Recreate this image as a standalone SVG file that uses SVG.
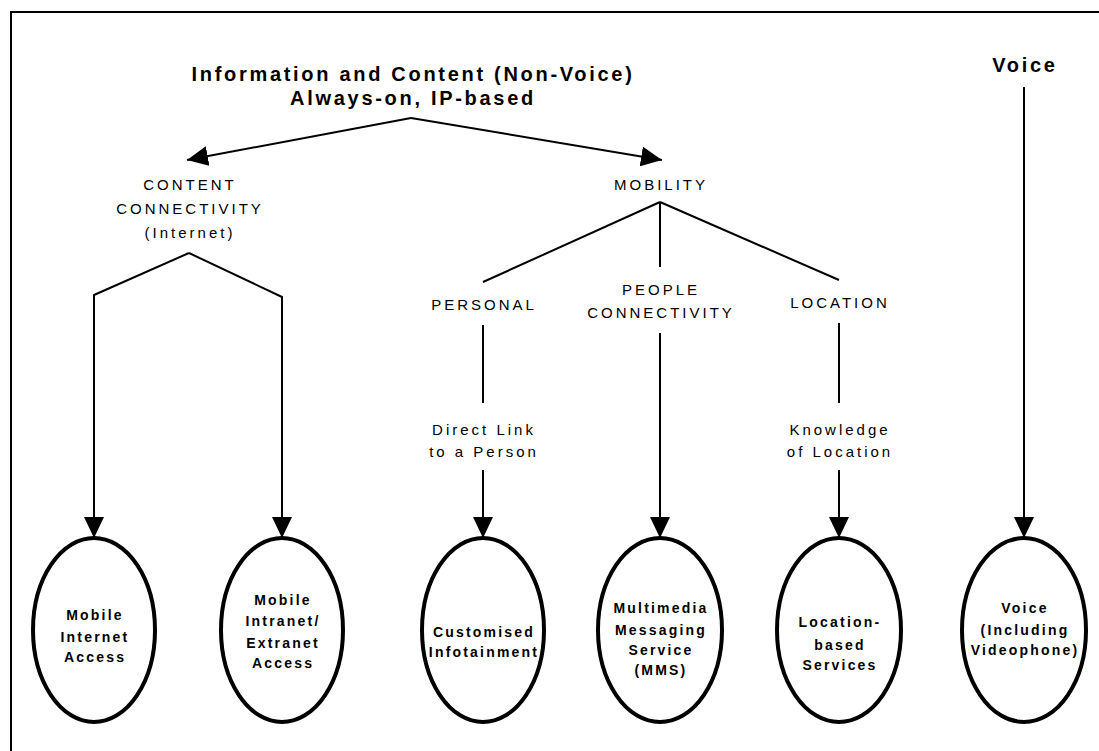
<svg xmlns="http://www.w3.org/2000/svg" width="1099" height="751" viewBox="0 0 1099 751">
<defs>
<marker id="ah" viewBox="0 0 21 20" refX="21" refY="10" markerWidth="21" markerHeight="20" markerUnits="userSpaceOnUse" orient="auto">
<path d="M0,0 L21,10 L0,20 z" fill="#000"/>
</marker>
</defs>
<style>
.t{font-family:"Liberation Sans",Arial,sans-serif;font-weight:bold;font-size:20px;letter-spacing:2.7px;text-anchor:middle;fill:#000}
.l{font-family:"Liberation Sans",Arial,sans-serif;font-size:15px;letter-spacing:3px;text-anchor:middle;fill:#000}
.n{font-family:"Liberation Sans",Arial,sans-serif;font-weight:bold;font-size:14px;letter-spacing:2.2px;text-anchor:middle;fill:#000}
.c{fill:none;stroke:#000;stroke-width:2}
.a{marker-end:url(#ah)}
.e{fill:#fff;stroke:#000;stroke-width:4}
</style>
<rect width="1099" height="751" fill="#fff"/>
<path d="M11,751 V12 H1099" fill="none" stroke="#000" stroke-width="2"/>

<g id="connectors">
<path class="c a" d="M411,118 L187,160"/>
<path class="c a" d="M411,118 L662,160"/>
<path class="c a" d="M189,253 L94,295 L94,538"/>
<path class="c a" d="M189,253 L282,297 L282,538"/>
<path class="c" d="M660,202 L483,282"/>
<path class="c" d="M660,202 L660,267"/>
<path class="c" d="M660,202 L839,280"/>
<path class="c" d="M483,325 V403"/>
<path class="c a" d="M483,470 V538"/>
<path class="c a" d="M660,333 V538"/>
<path class="c" d="M839,323 V403"/>
<path class="c a" d="M839,470 V538"/>
<path class="c a" d="M1024,87 V538"/>
</g>

<g id="title">
<text class="t" x="413" y="81">Information and Content (Non-Voice)</text>
<text class="t" x="413" y="105">Always-on, IP-based</text>
</g>
<g id="voice-title">
<text class="t" x="1025" y="72">Voice</text>
</g>
<g id="content-connectivity">
<text class="l" x="190" y="190">CONTENT</text>
<text class="l" x="190" y="214">CONNECTIVITY</text>
<text class="l" x="190" y="238">(Internet)</text>
</g>
<g id="mobility">
<text class="l" x="661" y="190">MOBILITY</text>
</g>
<g id="personal">
<text class="l" x="484" y="310">PERSONAL</text>
</g>
<g id="people-connectivity">
<text class="l" x="661" y="295">PEOPLE</text>
<text class="l" x="661" y="318">CONNECTIVITY</text>
</g>
<g id="location">
<text class="l" x="840" y="308">LOCATION</text>
</g>
<g id="direct-link">
<text class="l" x="484" y="435">Direct Link</text>
<text class="l" x="484" y="457">to a Person</text>
</g>
<g id="knowledge">
<text class="l" x="840" y="435">Knowledge</text>
<text class="l" x="840" y="457">of Location</text>
</g>

<g id="mobile-internet">
<ellipse class="e" cx="94" cy="630" rx="61" ry="92"/>
<text class="n" x="95" y="620">Mobile</text>
<text class="n" x="95" y="642">Internet</text>
<text class="n" x="95" y="662">Access</text>
</g>
<g id="mobile-intranet">
<ellipse class="e" cx="282" cy="630" rx="61" ry="92"/>
<text class="n" x="283" y="605">Mobile</text>
<text class="n" x="283" y="626">Intranet/</text>
<text class="n" x="283" y="648">Extranet</text>
<text class="n" x="283" y="668">Access</text>
</g>
<g id="infotainment">
<ellipse class="e" cx="483" cy="630" rx="61" ry="92"/>
<text class="n" x="484" y="637">Customised</text>
<text class="n" x="484" y="657">Infotainment</text>
</g>
<g id="mms">
<ellipse class="e" cx="660" cy="630" rx="62" ry="92"/>
<text class="n" x="661" y="613">Multimedia</text>
<text class="n" x="661" y="635">Messaging</text>
<text class="n" x="661" y="655">Service</text>
<text class="n" x="661" y="675">(MMS)</text>
</g>
<g id="location-services">
<ellipse class="e" cx="839" cy="630" rx="62" ry="92"/>
<text class="n" x="840" y="627">Location-</text>
<text class="n" x="840" y="650">based</text>
<text class="n" x="840" y="670">Services</text>
</g>
<g id="voice">
<ellipse class="e" cx="1024" cy="630" rx="62" ry="92"/>
<text class="n" x="1025" y="613">Voice</text>
<text class="n" x="1025" y="635">(Including</text>
<text class="n" x="1025" y="655">Videophone)</text>
</g>
</svg>
